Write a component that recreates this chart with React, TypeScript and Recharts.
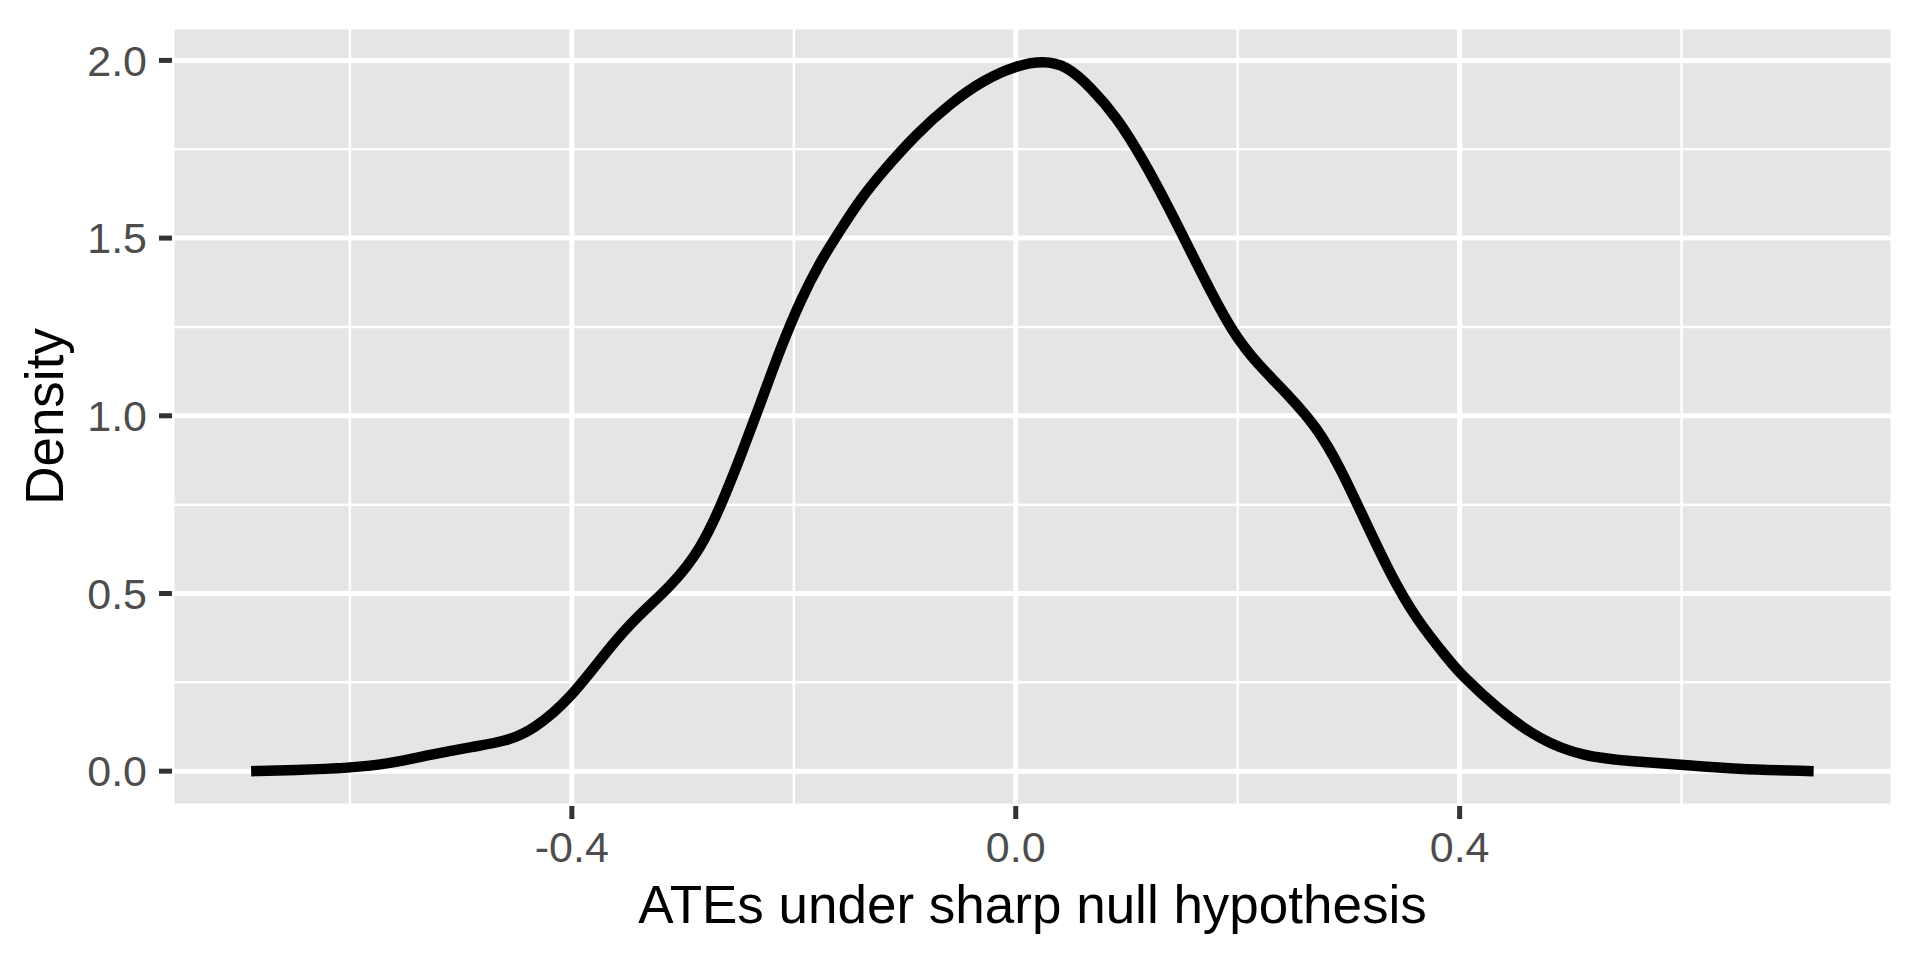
import React from 'react'
import {
  LineChart, Line, XAxis, YAxis, CartesianGrid, Label,
} from 'recharts'

// ────────────────────────────────────────────────────────────────────────────
// Density of ATEs under the sharp null
// ────────────────────────────────────────────────────────────────────────────

const ateValues = [
  -0.689, -0.650, -0.600, -0.564, -0.528, -0.489, -0.459, -0.435, -0.402, -0.367,
  -0.342, -0.309, -0.284, -0.266, -0.248, -0.230, -0.212, -0.194, -0.176, -0.158,
  -0.140, -0.119, -0.089, -0.059, -0.029, 0.001, 0.025, 0.046, 0.067, 0.091,
  0.115, 0.139, 0.157, 0.175, 0.196, 0.217, 0.247, 0.271, 0.292, 0.313,
  0.337, 0.361, 0.391, 0.400, 0.434, 0.472, 0.511, 0.557, 0.602, 0.647,
  0.719,
]

const densityValues = [
  0.000, 0.003, 0.009, 0.021, 0.046, 0.069, 0.084, 0.116, 0.201, 0.345,
  0.433, 0.525, 0.625, 0.744, 0.885, 1.035, 1.190, 1.325, 1.435, 1.523,
  1.610, 1.691, 1.795, 1.879, 1.945, 1.986, 1.999, 1.985, 1.926, 1.841,
  1.720, 1.579, 1.466, 1.354, 1.232, 1.148, 1.054, 0.969, 0.857, 0.716,
  0.557, 0.426, 0.310, 0.276, 0.175, 0.088, 0.041, 0.027, 0.018, 0.006,
  0.000,
]

const xMajorTicks = [-0.4, 0, 0.4]
const xMinorTicks = [-0.6, -0.2, 0.2, 0.6]
const yMajorTicks = [0, 0.5, 1, 1.5, 2]
const yMinorTicks = [0.25, 0.75, 1.25, 1.75]

const xDomain = [-0.7603, 0.7905]
const yDomain = [-0.098, 2.094]

const data = ateValues.map((x, i) => ({ x, density: densityValues[i] }))

const FONT = '"Liberation Sans", Arial, Helvetica, sans-serif'
const tickStyle = { fontSize: 43, fill: '#4D4D4D', fontFamily: FONT }
const tickLineStyle = { stroke: '#333333', strokeWidth: 5 }

export default function App() {
  return (
    <div style={{ position: 'absolute', left: 0, top: 0, width: 1920, height: 960, background: '#fff' }}>
      <LineChart width={1920} height={960} data={data} margin={{ top: 27, right: 27, left: 0, bottom: 0 }}>
        {/* minor grid (hidden axes) */}
        <XAxis xAxisId="minor" type="number" dataKey="x" domain={xDomain} ticks={xMinorTicks} allowDataOverflow hide />
        <YAxis yAxisId="minor" type="number" domain={yDomain} ticks={yMinorTicks} allowDataOverflow hide />
        <CartesianGrid xAxisId="minor" yAxisId="minor" fill="#E5E5E5" stroke="#FFFFFF" strokeWidth={2.5} />
        {/* major grid */}
        <CartesianGrid stroke="#FFFFFF" strokeWidth={5} />
        <XAxis
          type="number"
          dataKey="x"
          domain={xDomain}
          ticks={xMajorTicks}
          allowDataOverflow
          height={154}
          axisLine={false}
          tickLine={tickLineStyle}
          tickSize={13}
          tickMargin={12}
          tick={tickStyle}
          tickFormatter={(v: number) => v.toFixed(1)}
        >
          <Label
            content={({ viewBox }: any) => (
              <text
                x={viewBox.x + viewBox.width / 2}
                y={923}
                textAnchor="middle"
                fontSize={53}
                fontFamily={FONT}
                fill="#000"
              >
                ATEs under sharp null hypothesis
              </text>
            )}
          />
        </XAxis>
        <YAxis
          type="number"
          domain={yDomain}
          ticks={yMajorTicks}
          allowDataOverflow
          width={172}
          axisLine={false}
          tickLine={tickLineStyle}
          tickSize={13}
          tickMargin={12}
          tick={tickStyle}
          tickFormatter={(v: number) => v.toFixed(1)}
        >
          <Label
            content={({ viewBox }: any) => {
              const cy = viewBox.y + viewBox.height / 2
              return (
                <text
                  x={63}
                  y={cy}
                  transform={`rotate(-90, 63, ${cy})`}
                  textAnchor="middle"
                  fontSize={53}
                  fontFamily={FONT}
                  fill="#000"
                >
                  Density
                </text>
              )
            }}
          />
        </YAxis>
        <Line
          type="basis"
          dataKey="density"
          stroke="#000000"
          strokeWidth={10.5}
          strokeLinecap="butt"
          dot={false}
          activeDot={false}
          isAnimationActive={false}
        />
      </LineChart>
    </div>
  )
}
